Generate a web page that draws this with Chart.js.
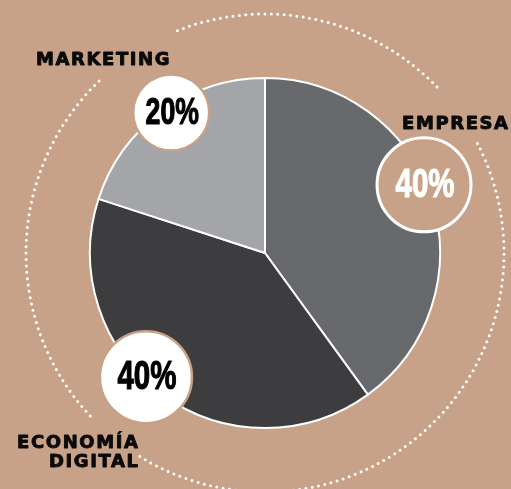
<!DOCTYPE html>
<html>
<head>
<meta charset="utf-8">
<script src="https://cdn.jsdelivr.net/npm/chart.js@4.4.1/dist/chart.umd.min.js"></script>
<style>
  html, body { margin: 0; padding: 0; background: #c7a288; }
  #wrap { width: 511px; height: 489px; position: relative; }
</style>
</head>
<body>
<div id="wrap"><canvas id="pieChart"></canvas></div>
<script>
    // chart data
    const categories = ['EMPRESA', 'ECONOMÍA DIGITAL', 'MARKETING'];
    const shares = [40, 40, 20];
    const sliceColors = ['#68696d', '#3d3d3f', '#a4a5a9'];

    const BG = '#c7a288';

    // badge look per slice (clock angle in degrees, distance from centre)
    const badgeStyle = [
      { angle: 66.8, dist: 173, r: 47, fill: BG, stroke: '#ffffff', text: '#ffffff', size: 41, lw: 3 },
      { angle: 223.8, dist: 172, r: 46, fill: '#ffffff', stroke: BG, text: '#000000', size: 41, lw: 2.5 },
      { angle: 326.3, dist: 169, r: 38, fill: '#ffffff', stroke: BG, text: '#000000', size: 37, lw: 2.5 }
    ];

    // category names drawn as text blocks (lines, anchor x, first baseline, align)
    const nameStyle = [
      { lines: ['EMPRESA'], x: 402, y: 129, align: 'left' },
      { lines: ['ECONOMÍA', 'DIGITAL'], x: 138, y: 448, align: 'right' },
      { lines: ['MARKETING'], x: 36, y: 65, align: 'left' }
    ];

    // dotted ring pieces, clock degrees
    const ringPieces = [[338.5, 406.9], [62.7, 211.7], [227, 317]];

    const toRad = (clockDeg) => (clockDeg - 90) * Math.PI / 180;

    const decorPlugin = {
      id: 'decor',
      beforeDatasetsDraw(chart) {
        const arc = chart.getDatasetMeta(0).data[0];
        const ctx = chart.ctx;
        const cx = arc.x, cy = arc.y;
        const ringR = arc.outerRadius + 64;
        ctx.save();
        ctx.strokeStyle = '#ffffff';
        ctx.lineWidth = 3;
        ctx.lineCap = 'round';
        ctx.setLineDash([0, 6.4]);
        for (const [a0, a1] of ringPieces) {
          ctx.beginPath();
          ctx.arc(cx, cy, ringR, toRad(a0), toRad(a1));
          ctx.stroke();
        }
        ctx.restore();
      },
      afterDatasetsDraw(chart) {
        const arc = chart.getDatasetMeta(0).data[0];
        const ctx = chart.ctx;
        const cx = arc.x, cy = arc.y;

        // percentage badges
        shares.forEach((v, i) => {
          const b = badgeStyle[i];
          const a = toRad(b.angle);
          const bx = cx + b.dist * Math.cos(a);
          const by = cy + b.dist * Math.sin(a);
          ctx.save();
          ctx.beginPath();
          ctx.arc(bx, by, b.r, 0, Math.PI * 2);
          ctx.fillStyle = b.fill;
          ctx.fill();
          ctx.lineWidth = b.lw;
          ctx.strokeStyle = b.stroke;
          ctx.stroke();

          ctx.translate(bx + 1, by);
          ctx.scale(0.72, 1);
          ctx.fillStyle = b.text;
          ctx.strokeStyle = b.text;
          ctx.lineWidth = 1.2;
          ctx.lineJoin = 'round';
          ctx.font = 'bold ' + b.size + 'px "Liberation Sans", Arial, sans-serif';
          ctx.textAlign = 'center';
          ctx.textBaseline = 'middle';
          ctx.fillText(v + '%', 0, 1);
          ctx.strokeText(v + '%', 0, 1);
          ctx.restore();
        });

        // category names
        ctx.save();
        ctx.fillStyle = '#0a0a0a';
        ctx.strokeStyle = '#0a0a0a';
        ctx.lineWidth = 0.9;
        ctx.lineJoin = 'round';
        ctx.font = 'bold 18px "DejaVu Sans", sans-serif';
        ctx.letterSpacing = '1.6px';
        ctx.textBaseline = 'alphabetic';
        nameStyle.forEach((n) => {
          ctx.textAlign = n.align;
          n.lines.forEach((line, k) => {
            // letterSpacing adds trailing space on the right, compensate
            const x = n.align === 'right' ? n.x + 1.6 : n.x;
            ctx.fillText(line, x, n.y + k * 19);
            ctx.strokeText(line, x, n.y + k * 19);
          });
        });
        ctx.restore();
      }
    };

    const ctx = document.getElementById('pieChart').getContext('2d');
    new Chart(ctx, {
      type: 'pie',
      data: {
        labels: categories,
        datasets: [{
          data: shares,
          backgroundColor: sliceColors,
          borderColor: '#ffffff',
          borderWidth: 2
        }]
      },
      options: {
        responsive: true,
        maintainAspectRatio: false,
        animation: false,
        layout: { padding: { left: 89, right: 70, top: 77, bottom: 60 } },
        plugins: {
          legend: { display: false },
          tooltip: { enabled: false }
        }
      },
      plugins: [decorPlugin]
    });
</script>
</body>
</html>
